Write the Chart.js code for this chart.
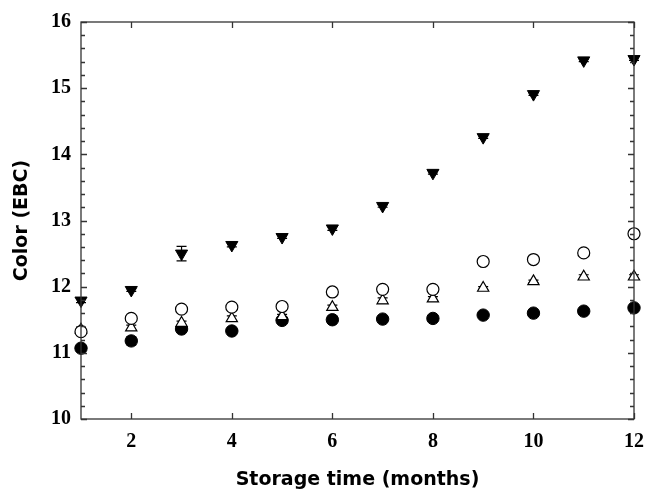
<!DOCTYPE html>
<html>
<head>
<meta charset="utf-8">
<script src="https://cdn.jsdelivr.net/npm/chart.js@4.4.1/dist/chart.umd.min.js"></script>
<style>
  html, body { margin: 0; padding: 0; background: #fff; }
  #wrap { width: 646px; height: 493px; }
</style>
</head>
<body>
<div id="wrap"><canvas id="chart" width="646" height="493"></canvas></div>
<script>
// storage time in months and colour readings (EBC)
const months = [1, 2, 3, 4, 5, 6, 7, 8, 9, 10, 11, 12];
const filledCircle = [11.07, 11.18, 11.36, 11.33, 11.49, 11.5, 11.51, 11.52, 11.57, 11.6, 11.63, 11.68];
const openCircle = [11.32, 11.52, 11.66, 11.69, 11.7, 11.92, 11.96, 11.96, 12.38, 12.41, 12.51, 12.8];
const openTriangle = [11.35, 11.38, 11.45, 11.52, 11.55, 11.69, 11.79, 11.82, 11.98, 12.08, 12.15, 12.15];
const filledTriangle = [11.79, 11.95, 12.5, 12.63, 12.75, 12.88, 13.22, 13.72, 14.26, 14.91, 15.42, 15.44];

// standard deviations
const filledCircleErr = [0.04, 0.06, 0.03, 0.02, 0.02, 0.02, 0.02, 0.02, 0.02, 0.02, 0.02, 0.02];
const openCircleErr = [0.03, 0.03, 0.02, 0.02, 0.02, 0.02, 0.02, 0.02, 0.02, 0.02, 0.02, 0.02];
const openTriangleErr = [0.04, 0.04, 0.03, 0.04, 0.03, 0.03, 0.04, 0.03, 0.02, 0.02, 0.03, 0.03];
const filledTriangleErr = [0.03, 0.02, 0.11, 0.03, 0.02, 0.03, 0.02, 0.02, 0.02, 0.02, 0.02, 0.02];

const xTicks = [2, 4, 6, 8, 10, 12];
const yTicks = [10, 11, 12, 13, 14, 15, 16];

const toPoints = (vals) => months.map((m, i) => ({ x: m, y: vals[i] }));

// error bars go under the markers, frame and inward ticks on top
const decor = {
  id: "decor",
  beforeDatasetsDraw(chart) {
    const { ctx, scales } = chart;
    const xs = scales.x, ys = scales.y;
    ctx.save();
    ctx.strokeStyle = "#000";
    ctx.lineWidth = 1.2;
    chart.data.datasets.forEach((ds) => {
      if (!ds.err) return;
      ds.data.forEach((p, i) => {
        const px = xs.getPixelForValue(p.x);
        const top = ys.getPixelForValue(p.y + ds.err[i]);
        const bot = ys.getPixelForValue(p.y - ds.err[i]);
        ctx.beginPath();
        ctx.moveTo(px, top); ctx.lineTo(px, bot);
        ctx.moveTo(px - 5, top); ctx.lineTo(px + 5, top);
        ctx.moveTo(px - 5, bot); ctx.lineTo(px + 5, bot);
        ctx.stroke();
      });
    });
    ctx.restore();
  },
  afterDatasetsDraw(chart) {
    const { ctx, chartArea: a, scales } = chart;
    const xs = scales.x, ys = scales.y;
    ctx.save();
    ctx.lineWidth = 1.3;
    ctx.strokeStyle = "#333";
    ctx.strokeRect(a.left, a.top, a.right - a.left, a.bottom - a.top);
    ctx.beginPath();
    for (let v = 10; v <= 16.001; v += 0.2) {
      const py = Math.round(ys.getPixelForValue(v)) + 0.5;
      const major = Math.abs(v - Math.round(v)) < 0.01;
      const len = major ? 6 : 4;
      ctx.moveTo(a.left, py); ctx.lineTo(a.left + len, py);
      ctx.moveTo(a.right, py); ctx.lineTo(a.right - len, py);
    }
    xTicks.forEach((v) => {
      const px = Math.round(xs.getPixelForValue(v)) + 0.5;
      ctx.moveTo(px, a.bottom); ctx.lineTo(px, a.bottom - 6);
      ctx.moveTo(px, a.top); ctx.lineTo(px, a.top + 6);
    });
    ctx.stroke();
    ctx.restore();
  },
};

const tickFont = { family: "'Liberation Serif', serif", size: 20, weight: "bold" };
const titleFont = { family: "'DejaVu Sans', sans-serif", size: 19, weight: "bold" };

new Chart(document.getElementById("chart"), {
  type: "scatter",
  data: {
    datasets: [
      {
        label: "filled triangle",
        data: toPoints(filledTriangle),
        err: filledTriangleErr,
        pointStyle: "triangle",
        rotation: 180,
        pointRadius: 7,
        backgroundColor: "#000",
        borderColor: "#000",
        borderWidth: 1,
        clip: false,
      },
      {
        label: "open circle",
        data: toPoints(openCircle),
        err: openCircleErr,
        pointStyle: "circle",
        pointRadius: 6,
        backgroundColor: "#fff",
        borderColor: "#000",
        borderWidth: 1.2,
        clip: false,
      },
      {
        label: "open triangle",
        data: toPoints(openTriangle),
        err: openTriangleErr,
        pointStyle: "triangle",
        pointRadius: 6.5,
        backgroundColor: "#fff",
        borderColor: "#000",
        borderWidth: 1.2,
        clip: false,
      },
      {
        label: "filled circle",
        data: toPoints(filledCircle),
        err: filledCircleErr,
        pointStyle: "circle",
        pointRadius: 6.2,
        backgroundColor: "#000",
        borderColor: "#000",
        borderWidth: 1,
        clip: false,
      },
    ],
  },
  options: {
    responsive: false,
    animation: false,
    layout: { padding: { top: 22, right: 12, left: 0, bottom: 0 } },
    plugins: { legend: { display: false }, tooltip: { enabled: false } },
    scales: {
      x: {
        type: "linear",
        min: 1,
        max: 12,
        afterBuildTicks: (s) => { s.ticks = xTicks.map((v) => ({ value: v })); },
        afterFit: (s) => {
          s.height = 74;
          s.paddingLeft = 0;
          s.paddingRight = 0;
        },
        grid: { display: false, drawTicks: false },
        border: { display: false },
        ticks: { color: "#000", font: tickFont, padding: 11, maxRotation: 0 },
        title: {
          display: true,
          text: "Storage time (months)",
          color: "#000",
          font: titleFont,
          padding: { top: 0, bottom: 2 },
        },
      },
      y: {
        type: "linear",
        min: 10,
        max: 16,
        afterBuildTicks: (s) => { s.ticks = yTicks.map((v) => ({ value: v })); },
        afterFit: (s) => {
          s.width = 81;
          s.paddingTop = 0;
          s.paddingBottom = 0;
        },
        grid: { display: false, drawTicks: false },
        border: { display: false },
        ticks: { color: "#000", font: tickFont, padding: 10 },
        title: {
          display: true,
          text: "Color (EBC)",
          color: "#000",
          font: titleFont,
          padding: { top: 11, bottom: 0 },
        },
      },
    },
  },
  plugins: [decor],
});
</script>
</body>
</html>
